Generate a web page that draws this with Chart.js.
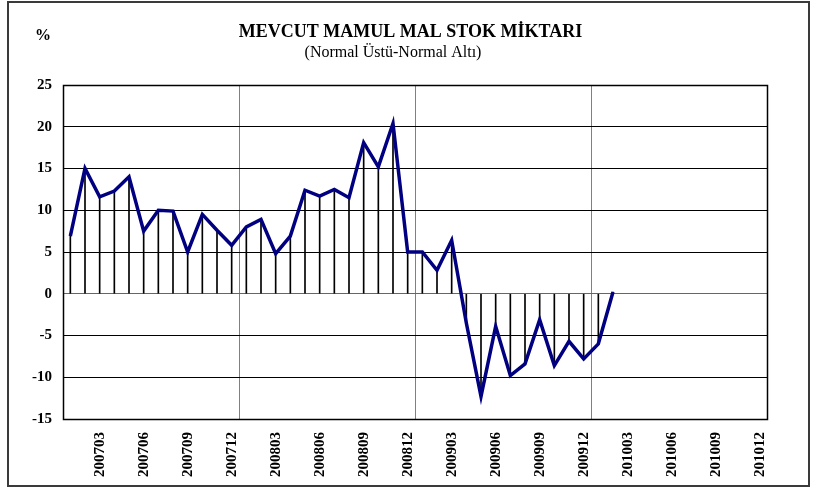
<!DOCTYPE html>
<html>
<head>
<meta charset="utf-8">
<script src="https://cdn.jsdelivr.net/npm/chart.js@4/dist/chart.umd.min.js"></script>
<style>
html,body{margin:0;padding:0;background:#fff;}
#wrap{width:824px;height:491px;position:relative;}
</style>
</head>
<body>
<div id="wrap"><canvas id="c" width="824" height="491"></canvas></div>
<script>
const categories = [
  '200701','200702','200703','200704','200705','200706','200707','200708','200709','200710','200711','200712',
  '200801','200802','200803','200804','200805','200806','200807','200808','200809','200810','200811','200812',
  '200901','200902','200903','200904','200905','200906','200907','200908','200909','200910','200911','200912',
  '201001','201002','201003','201004','201005','201006','201007','201008','201009','201010','201011','201012'
];
const stockValues = [
  6.9, 15.0, 11.6, 12.3, 14.0, 7.5, 10.0, 9.9, 5.0, 9.5, 7.6, 5.8,
  8.0, 8.9, 4.8, 6.9, 12.4, 11.7, 12.5, 11.5, 18.1, 15.2, 20.4, 5.0,
  5.0, 2.8, 6.4, -3.5, -12.3, -3.9, -9.8, -8.4, -3.1, -8.6, -5.7, -7.8,
  -6.0, 0.2
];
const yTicks = [-15, -10, -5, 0, 5, 10, 15, 20, 25];
const titleText = 'MEVCUT MAMUL MAL STOK MİKTARI';
const subtitleText = '(Normal Üstü-Normal Altı)';
const unitText = '%';

const serif = "'Liberation Serif', 'Times New Roman', serif";

const framePlugin = {
  id: 'frame',
  beforeDraw(chart) {
    const ctx = chart.ctx;
    ctx.save();
    ctx.fillStyle = '#fff';
    ctx.fillRect(0, 0, chart.width, chart.height);
    ctx.strokeStyle = '#3a3a3a';
    ctx.lineWidth = 2;
    ctx.strokeRect(8, 2, 801, 484);
    ctx.fillStyle = '#000';
    ctx.font = 'bold 16px ' + serif;
    ctx.textBaseline = 'middle';
    ctx.textAlign = 'left';
    ctx.fillText(unitText, 35, 36);
    ctx.font = 'normal 16px ' + serif;
    ctx.textBaseline = 'alphabetic';
    ctx.textAlign = 'center';
    ctx.fillText(subtitleText, 393, 57);
    ctx.restore();
  },
  beforeDatasetsDraw(chart) {
    const a = chart.chartArea;
    const ctx = chart.ctx;
    ctx.save();
    ctx.strokeStyle = '#000';
    ctx.lineWidth = 1.5;
    ctx.strokeRect(Math.round(a.left) + 0.5, Math.round(a.top) + 0.5, Math.round(a.right - a.left), Math.round(a.bottom - a.top));
    ctx.restore();
  }
};

new Chart(document.getElementById('c'), {
  type: 'bar',
  data: {
    labels: categories,
    datasets: [
      {
        type: 'line',
        data: stockValues,
        borderColor: '#000080',
        borderWidth: 3.5,
        pointRadius: 0,
        tension: 0,
        fill: false,
        order: 0,
        yAxisID: 'y'
      },
      {
        type: 'bar',
        data: stockValues,
        backgroundColor: '#000',
        borderWidth: 0,
        barThickness: 1,
        order: 1,
        yAxisID: 'y'
      }
    ]
  },
  options: {
    responsive: false,
    animation: false,
    layout: { padding: { left: 27, right: 30, top: 2, bottom: 0 } },
    plugins: {
      legend: { display: false },
      tooltip: { enabled: false },
      title: {
        display: true,
        text: titleText,
        color: '#000',
        font: { family: serif, size: 18, weight: 'bold', lineHeight: 1.1 },
        padding: { top: 20, bottom: 43.2 }
      },
      subtitle: { display: false }
    },
    scales: {
      x: {
        offset: true,
        grid: {
          offset: true,
          drawTicks: false,
          lineWidth: 1,
          color: (c) => (c.index > 0 && c.index % 12 === 0) ? '#808080' : 'rgba(0,0,0,0)'
        },
        border: { display: false },
        ticks: {
          autoSkip: false,
          maxRotation: 90,
          minRotation: 90,
          padding: 13,
          color: '#000',
          font: { family: serif, size: 15, weight: 'bold' },
          callback: function(v, i) { return (i % 3 === 2) ? categories[i] : ''; }
        },
        afterFit: (s) => { s.height = 72; }
      },
      y: {
        min: -15,
        max: 25,
        afterBuildTicks: (s) => { s.ticks = yTicks.map(v => ({ value: v })); },
        grid: {
          drawTicks: false,
          lineWidth: 1,
          color: (c) => (c.tick && c.tick.value === 0) ? '#666' : '#000'
        },
        border: { display: false },
        ticks: {
          padding: 11,
          color: '#000',
          font: { family: serif, size: 15, weight: 'bold' }
        },
        afterFit: (s) => { s.width = 36; }
      },
      y2: {
        position: 'right',
        display: true,
        grid: { display: false, drawTicks: false },
        border: { display: false },
        ticks: { display: false },
        afterFit: (s) => { s.width = 27; }
      }
    }
  },
  plugins: [framePlugin]
});
</script>
</body>
</html>
